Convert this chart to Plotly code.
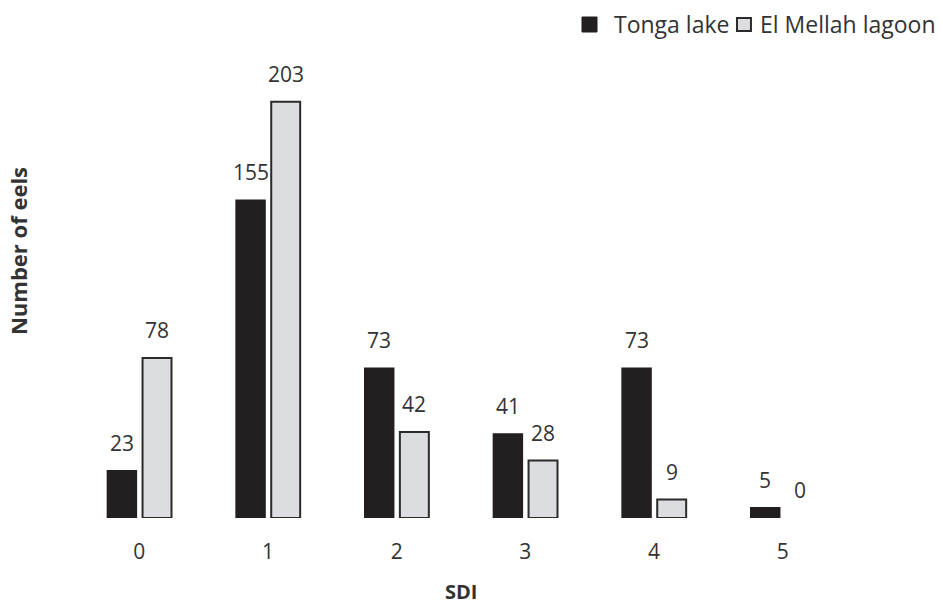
import plotly.graph_objects as go

sdi = [0, 1, 2, 3, 4, 5]
tonga = [23, 155, 73, 41, 73, 5]
mellah = [78, 203, 42, 28, 9, 0]
tick_labels = ["0", "1", "2", "3", "4", "5"]
series_names = ["Tonga lake", "El Mellah lagoon"]

TXT = "#333333"
FONT = "Open Sans"
DARK = "#231f20"
LIGHT = "#dcdde0"

fig = go.Figure()
fig.add_trace(go.Bar(
    x=sdi, y=tonga, name=series_names[0], width=0.225, offset=-0.248,
    marker=dict(color=DARK, line=dict(color=DARK, width=1.5)),
))
fig.add_trace(go.Bar(
    x=sdi, y=mellah, name=series_names[1], width=0.225, offset=0.025,
    marker=dict(color=LIGHT, line=dict(color="#2a2a2a",
                                        width=[2 if v > 0 else 0 for v in mellah])),
))

for xv, yv in zip(sdi, tonga):
    fig.add_annotation(x=xv - 0.135, y=yv, text=str(yv), showarrow=False,
                       yanchor="bottom", yshift=12, font=dict(size=21, color=TXT, family=FONT))
for xv, yv in zip(sdi, mellah):
    fig.add_annotation(x=xv + 0.138, y=yv, text=str(yv), showarrow=False,
                       yanchor="bottom", yshift=12, font=dict(size=21, color=TXT, family=FONT))

# axis titles
fig.add_annotation(x=-0.0738, y=0.596, xref="paper", yref="paper", text="<b>Number of eels</b>",
                   textangle=-90, showarrow=False, xanchor="center", yanchor="middle",
                   font=dict(size=22, color=TXT, family=FONT))
fig.add_annotation(x=0.5, y=-0.165, xref="paper", yref="paper", text="<b>SDI</b>",
                   showarrow=False, xanchor="center", yanchor="middle",
                   font=dict(size=20, color=TXT, family=FONT))

# legend (drawn manually to match the large square swatches)
fig.add_shape(type="rect", xref="paper", yref="paper", x0=0.6567, x1=0.6762, y0=1.0848, y1=1.1183,
              fillcolor=DARK, line=dict(color=DARK, width=1))
fig.add_annotation(x=0.6956, y=1.1016, xref="paper", yref="paper", text=series_names[0],
                   showarrow=False, xanchor="left", yanchor="middle",
                   font=dict(size=23, color=TXT, family=FONT))
fig.add_shape(type="rect", xref="paper", yref="paper", x0=0.8575, x1=0.8756, y0=1.0870, y1=1.1160,
              fillcolor=LIGHT, line=dict(color="#2a2a2a", width=2))
fig.add_annotation(x=0.8847, y=1.1016, xref="paper", yref="paper", text=series_names[1],
                   showarrow=False, xanchor="left", yanchor="middle",
                   font=dict(size=23, color=TXT, family=FONT))

fig.update_layout(
    width=935, height=598,
    margin=dict(l=67, r=96, t=62, b=88, autoexpand=False),
    plot_bgcolor="white", paper_bgcolor="white",
    barmode="overlay",
    showlegend=False,
    xaxis=dict(range=[-0.5, 5.5], tickmode="array", tickvals=sdi, ticktext=tick_labels,
               showgrid=False, zeroline=False, showline=False,
               ticks="outside", ticklen=15, tickcolor="rgba(0,0,0,0)",
               tickfont=dict(size=21, color=TXT, family=FONT)),
    yaxis=dict(range=[0, 218.5], showgrid=False, zeroline=False, showline=False,
               showticklabels=False, ticks=""),
)

fig.write_html("out.html")
